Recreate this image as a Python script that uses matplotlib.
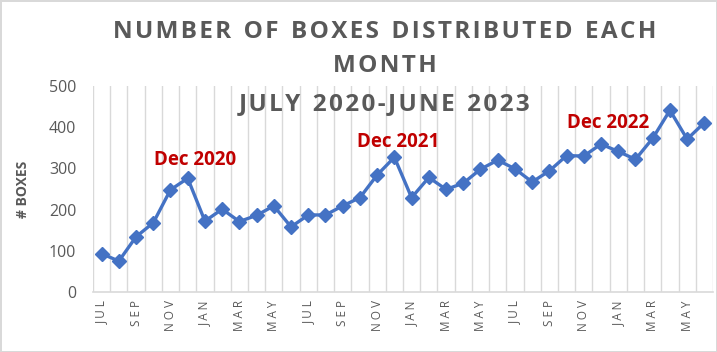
import matplotlib
matplotlib.use("Agg")
import matplotlib.pyplot as plt

# months Jul 2020 - Jun 2023
months = ["JUL", "AUG", "SEP", "OCT", "NOV", "DEC",
          "JAN", "FEB", "MAR", "APR", "MAY", "JUN"] * 3
boxes = [93, 75, 134, 168, 248, 276, 172, 201, 171, 186, 209, 158,
         187, 187, 209, 229, 284, 327, 229, 278, 249, 264, 298, 320,
         299, 267, 294, 331, 330, 359, 341, 322, 373, 441, 371, 411]
callout_idx = [5, 17, 29]
callout_text = ["Dec 2020", "Dec 2021", "Dec 2022"]

# label offsets (points) from the marked point
callout_offsets = [(5, 13), (3, 11), (5, 15)]

gray = "#595959"
blue = "#4472C4"
red = "#C00000"
fonts = ["Open Sans", "DejaVu Sans"]
plt.rcParams["font.family"] = fonts

def spaced(s, gap):
    return gap.join(s)

fig = plt.figure(figsize=(7.17, 3.52), dpi=100)
fig.patch.set_edgecolor("#D9D9D9")
fig.patch.set_linewidth(2)
ax = fig.add_axes([0.1297, 0.1705, 0.8647, 0.5852])

x = list(range(len(boxes)))
ax.plot(x, boxes, color=blue, lw=2.4, marker="D", ms=7, zorder=3)

ax.set_xlim(-0.5, len(boxes) - 0.5)
ax.set_ylim(0, 500)
ax.set_yticks(range(0, 501, 100))
ax.tick_params(axis="y", length=0, labelsize=11.5, labelcolor=gray, pad=12)

# vertical gridlines between categories
for i in range(len(boxes) + 1):
    ax.axvline(i - 0.5, color="#D9D9D9", lw=1, zorder=0)

ax.set_xticks(x[::2])
ax.set_xticklabels([spaced(m, " ") for m in months[::2]], rotation=90,
                   fontsize=8.5, color=gray)
ax.tick_params(axis="x", length=0, pad=6)

for s in ["top", "right", "left"]:
    ax.spines[s].set_visible(False)
ax.spines["bottom"].set_color("#D9D9D9")
ax.spines["bottom"].set_linewidth(1.2)

ax.set_ylabel("# BOXES", fontsize=10, fontweight="bold", color=gray)
ax.yaxis.set_label_coords(-0.102, 0.5)

for i, txt, off in zip(callout_idx, callout_text, callout_offsets):
    ax.annotate(txt, (i, boxes[i]), xytext=off, textcoords="offset points",
                ha="center", va="center", fontsize=13.5, fontweight="bold",
                color=red)

hs = "\u200a"
fig.text(0.537, 0.909, spaced("NUMBER", hs) + "  " + spaced("OF", hs) + "  "
         + spaced("BOXES", hs) + "  " + spaced("DISTRIBUTED", hs) + "  "
         + spaced("EACH", hs),
         ha="center", va="center", fontsize=17.5, fontweight="bold", color=gray)
fig.text(0.537, 0.8125, spaced("MONTH", hs), ha="center", va="center",
         fontsize=17.5, fontweight="bold", color=gray)
fig.text(0.537, 0.705, spaced("JULY", hs) + "  " + spaced("2020-JUNE", hs)
         + "  " + spaced("2023", hs),
         ha="center", va="center", fontsize=17.5, fontweight="bold", color=gray)

fig.savefig("out.png", dpi=100)
